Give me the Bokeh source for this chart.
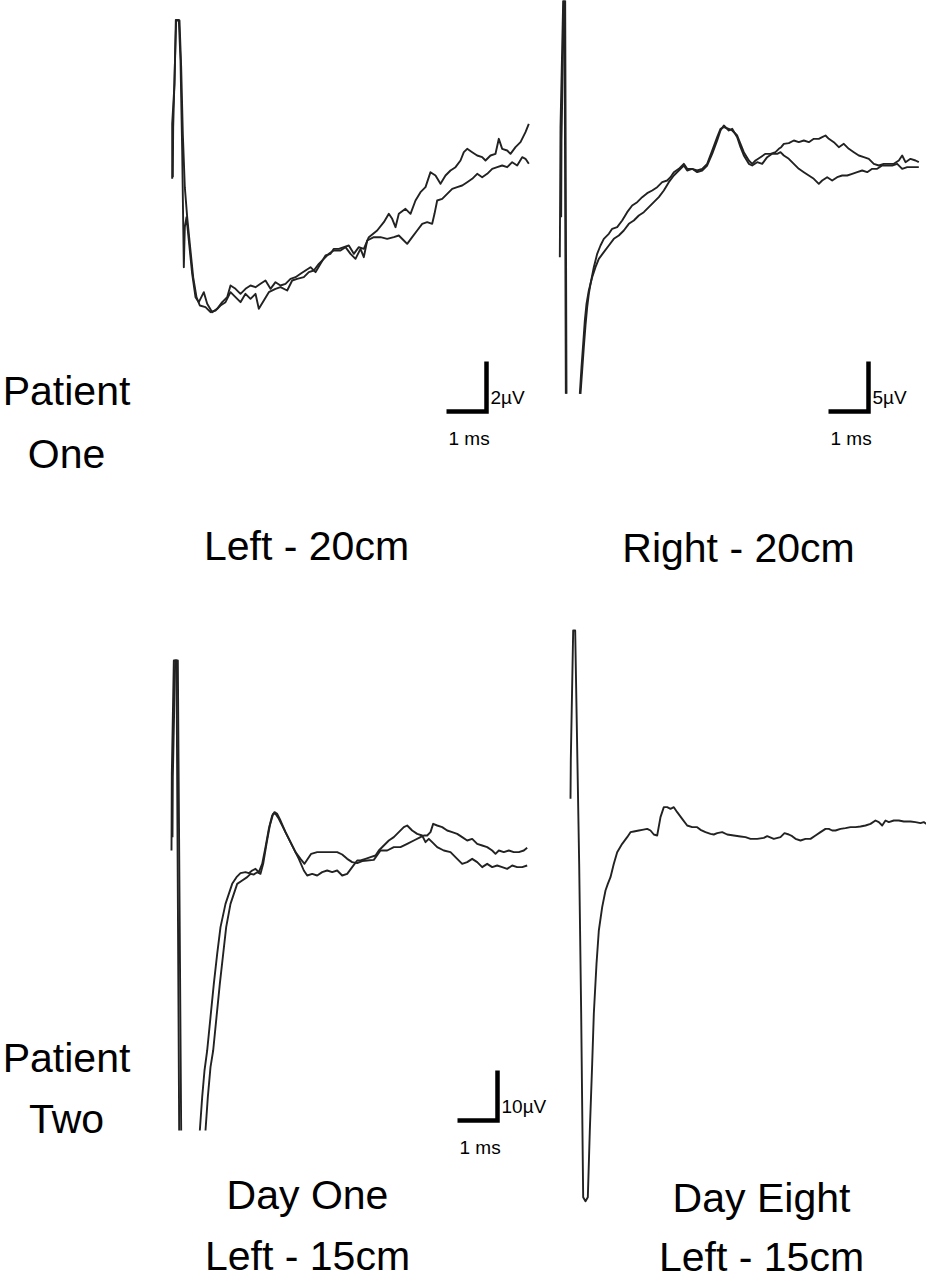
import math
from bokeh.plotting import figure
from bokeh.models import Range1d
from bokeh.core.properties import value
from bokeh.embed import file_html
from bokeh.resources import INLINE

NaN = float("nan")

# ---------------- data: (time ms, amplitude µV) ----------------
# Patient One, Left - 20cm
left20_run1 = [(0.042,0.067),(0.042,2.267),(0.1,3.867),(0.133,6.427),(0.208,6.427),(0.25,4.8),(0.292,1.2),(0.333,-3.467),(0.358,-1.867),(0.4,-1.467),(0.458,-2.4),(0.542,-3.733),(0.625,-4.667),(0.708,-4.867),(0.833,-4.467),(0.917,-4.933),(1.042,-5.267),(1.167,-5.133),(1.292,-4.867),(1.417,-4.667),(1.5,-4.2),(1.625,-4.333),(1.75,-4.533),(1.875,-4.333),(2.0,-4.2),(2.125,-4.267),(2.25,-4.133),(2.375,-4.0),(2.5,-4.333),(2.625,-4.067),(2.75,-4.2),(2.875,-4.133),(3.0,-3.933),(3.125,-3.867),(3.25,-3.733),(3.375,-3.6),(3.5,-3.467),(3.625,-3.667),(3.75,-3.333),(3.875,-3.0),(4.0,-2.933),(4.083,-2.733),(4.208,-2.733),(4.333,-2.667),(4.458,-2.6),(4.583,-2.933),(4.708,-2.667),(4.833,-2.733),(4.958,-2.267),(5.167,-2.0),(5.333,-1.667),(5.458,-1.333),(5.542,-1.533),(5.625,-1.867),(5.708,-1.333),(5.875,-1.133),(6.0,-1.333),(6.125,-0.8),(6.25,-0.467),(6.375,-0.267),(6.5,0.333),(6.625,0.2),(6.75,-0.133),(6.875,0.2),(7.0,0.4),(7.125,0.533),(7.25,0.8),(7.333,1.133),(7.417,1.267),(7.542,1.133),(7.667,1.0),(7.792,0.933),(7.875,0.8),(8.0,1.0),(8.125,1.067),(8.208,1.667),(8.292,1.267),(8.417,1.2),(8.5,1.067),(8.625,1.333),(8.75,1.533),(8.875,1.933),(8.958,2.267)]
left20_run2 = [(0.058,0.133),(0.067,2.133),(0.108,4.533),(0.142,6.4),(0.225,6.4),(0.267,4.533),(0.308,1.867),(0.358,-0.267),(0.417,-1.467),(0.483,-2.533),(0.567,-3.867),(0.65,-4.667),(0.733,-5.0),(0.875,-5.067),(1.0,-5.267),(1.125,-5.2),(1.25,-5.0),(1.375,-4.867),(1.5,-4.467),(1.625,-4.667),(1.75,-4.867),(1.875,-4.533),(2.0,-4.733),(2.125,-4.533),(2.208,-5.133),(2.333,-4.8),(2.458,-4.467),(2.625,-4.333),(2.75,-4.267),(2.917,-4.4),(3.042,-4.0),(3.167,-3.933),(3.333,-3.867),(3.458,-3.667),(3.583,-3.6),(3.708,-3.333),(3.833,-3.133),(3.958,-2.933),(4.083,-2.8),(4.25,-2.8),(4.375,-2.667),(4.5,-2.933),(4.625,-3.133),(4.75,-2.733),(4.833,-3.067),(4.917,-2.4),(5.083,-2.267),(5.25,-2.267),(5.417,-2.333),(5.583,-2.267),(5.708,-2.2),(5.833,-2.4),(5.917,-2.533),(6.042,-2.267),(6.167,-2.0),(6.292,-1.733),(6.417,-1.667),(6.542,-1.733),(6.6,-1.333),(6.667,-0.8),(6.792,-0.733),(6.917,-0.533),(7.042,-0.333),(7.167,-0.267),(7.292,-0.2),(7.417,-0.067),(7.542,0.067),(7.667,0.267),(7.792,0.133),(7.917,0.267),(8.042,0.467),(8.167,0.533),(8.292,0.6),(8.417,0.533),(8.542,0.733),(8.667,0.6),(8.792,0.933),(8.875,0.867),(8.958,0.667)]

# Patient One, Right - 20cm
right20_run1 = [(-0.017,-10.667),(0.0,2.333),(0.067,15.0),(0.1,15.0),(0.133,-24.333),(NaN,NaN),(0.5,-24.333),(0.542,-22.0),(0.583,-19.667),(0.625,-17.5),(0.667,-15.667),(0.708,-14.333),(0.75,-13.333),(0.833,-11.667),(0.917,-10.333),(1.0,-9.5),(1.083,-8.833),(1.208,-8.333),(1.292,-7.833),(1.417,-7.667),(1.542,-7.0),(1.667,-6.167),(1.792,-5.5),(1.917,-5.167),(2.042,-4.667),(2.167,-4.267),(2.292,-4.0),(2.417,-3.667),(2.542,-3.167),(2.667,-3.0),(2.75,-2.667),(2.833,-2.167),(2.958,-1.833),(3.083,-1.333),(3.167,-1.833),(3.292,-1.833),(3.417,-2.0),(3.542,-1.833),(3.667,-1.333),(3.792,0.0),(3.917,1.333),(4.0,2.167),(4.083,2.333),(4.208,2.167),(4.292,2.0),(4.417,1.5),(4.5,0.667),(4.583,-0.167),(4.708,-1.0),(4.792,-1.333),(4.875,-1.0),(5.0,-0.667),(5.125,-0.333),(5.25,-0.333),(5.375,-0.167),(5.458,0.167),(5.517,0.333),(5.583,0.667),(5.708,0.733),(5.833,1.0),(5.958,0.833),(6.083,1.0),(6.208,0.833),(6.333,1.167),(6.458,1.167),(6.542,1.333),(6.625,1.5),(6.708,1.167),(6.833,0.833),(6.958,0.333),(7.083,0.667),(7.208,0.167),(7.333,-0.167),(7.458,-0.5),(7.583,-0.667),(7.708,-0.833),(7.833,-1.333),(7.958,-1.5),(8.083,-1.333),(8.208,-1.333),(8.333,-1.333),(8.458,-1.0),(8.542,-0.5),(8.625,-1.167),(8.75,-0.833),(8.875,-1.0),(8.958,-1.167)]
right20_run2 = [(0.017,-6.667),(0.025,1.0),(0.083,15.0),(0.117,15.0),(0.15,-24.333),(NaN,NaN),(0.483,-24.333),(0.525,-21.667),(0.567,-19.333),(0.608,-17.0),(0.65,-15.333),(0.708,-14.0),(0.792,-12.667),(0.875,-11.667),(0.958,-10.833),(1.083,-10.167),(1.208,-9.5),(1.333,-8.833),(1.458,-8.5),(1.583,-8.0),(1.708,-7.333),(1.833,-7.0),(1.958,-6.5),(2.083,-6.167),(2.208,-5.667),(2.333,-5.167),(2.458,-4.667),(2.583,-4.0),(2.708,-3.167),(2.833,-2.5),(2.958,-2.0),(3.083,-1.5),(3.167,-2.0),(3.292,-1.833),(3.417,-2.167),(3.542,-2.0),(3.667,-1.5),(3.792,-0.333),(3.917,1.0),(4.0,2.0),(4.083,2.5),(4.208,2.0),(4.292,2.167),(4.417,1.333),(4.5,0.333),(4.583,-0.5),(4.708,-1.333),(4.792,-1.5),(4.917,-1.167),(5.042,-1.333),(5.167,-0.667),(5.292,-0.333),(5.417,-0.333),(5.5,-0.167),(5.583,-0.5),(5.708,-0.833),(5.833,-1.333),(5.958,-1.833),(6.083,-2.167),(6.208,-2.5),(6.333,-2.833),(6.458,-3.333),(6.542,-3.0),(6.667,-2.667),(6.792,-3.0),(6.917,-2.667),(7.042,-2.5),(7.167,-2.5),(7.292,-2.333),(7.417,-2.167),(7.542,-2.0),(7.667,-2.167),(7.792,-1.833),(7.917,-1.833),(8.042,-1.5),(8.167,-1.5),(8.292,-1.5),(8.417,-1.333),(8.542,-1.833),(8.667,-1.667),(8.792,-1.667),(8.958,-1.667)]

# Patient Two, Day One, Left - 15cm
dayone_run1 = [(0.025,-10.0),(0.033,5.333),(0.083,28.0),(0.15,28.0),(0.217,-66.0),(NaN,NaN),(0.733,-66.0),(0.792,-59.333),(0.85,-54.0),(0.917,-50.0),(1.0,-43.333),(1.083,-36.667),(1.167,-30.667),(1.25,-25.333),(1.375,-20.667),(1.542,-16.667),(1.65,-15.333),(1.75,-14.533),(1.875,-14.333),(1.958,-14.533),(2.042,-14.0),(2.125,-13.667),(2.208,-14.333),(2.292,-12.667),(2.375,-9.333),(2.458,-5.667),(2.542,-3.0),(2.6,-2.333),(2.667,-2.667),(2.75,-4.0),(2.875,-6.333),(3.0,-8.333),(3.125,-10.333),(3.25,-11.667),(3.35,-12.667),(3.433,-11.667),(3.517,-10.667),(3.667,-10.333),(3.833,-10.333),(4.0,-10.333),(4.167,-10.333),(4.292,-10.8),(4.417,-11.667),(4.542,-12.333),(4.667,-12.533),(4.792,-12.133),(4.917,-12.0),(5.083,-11.867),(5.25,-10.0),(5.417,-10.0),(5.583,-9.333),(5.75,-9.333),(5.917,-8.667),(6.083,-8.0),(6.25,-7.333),(6.333,-7.0),(6.417,-7.0),(6.5,-6.333),(6.567,-4.667),(6.667,-5.0),(6.792,-5.333),(6.917,-6.0),(7.042,-6.333),(7.167,-6.667),(7.292,-7.333),(7.417,-8.0),(7.542,-7.667),(7.667,-8.667),(7.792,-9.0),(7.917,-9.333),(8.042,-10.0),(8.125,-10.667),(8.208,-10.0),(8.333,-10.333),(8.458,-10.0),(8.583,-10.333),(8.708,-10.333),(8.833,-10.0),(8.917,-9.467)]
dayone_run2 = [(0.05,-7.333),(0.058,4.667),(0.117,28.0),(0.183,28.0),(0.267,-66.0),(NaN,NaN),(0.875,-66.0),(0.933,-59.333),(1.0,-53.333),(1.067,-50.0),(1.15,-43.333),(1.233,-36.667),(1.317,-30.667),(1.392,-25.333),(1.5,-20.667),(1.667,-16.667),(1.792,-16.0),(1.917,-15.333),(2.0,-14.667),(2.083,-14.8),(2.167,-14.333),(2.25,-14.667),(2.317,-12.667),(2.4,-8.667),(2.483,-5.0),(2.567,-2.667),(2.625,-2.667),(2.708,-3.667),(2.833,-5.667),(2.958,-7.667),(3.083,-9.667),(3.208,-11.667),(3.333,-14.0),(3.417,-15.0),(3.542,-14.667),(3.667,-15.0),(3.792,-14.333),(3.917,-14.0),(4.042,-14.333),(4.167,-14.0),(4.292,-15.0),(4.417,-14.667),(4.542,-13.333),(4.667,-12.0),(4.75,-12.0),(4.875,-11.667),(5.0,-11.333),(5.125,-11.0),(5.208,-10.0),(5.333,-9.0),(5.458,-8.0),(5.583,-7.333),(5.708,-6.333),(5.833,-5.333),(5.917,-5.0),(6.042,-6.0),(6.167,-6.667),(6.292,-7.0),(6.375,-8.333),(6.458,-7.667),(6.542,-8.333),(6.667,-9.333),(6.833,-10.0),(7.0,-10.333),(7.167,-11.667),(7.292,-12.667),(7.417,-12.333),(7.542,-11.667),(7.667,-12.333),(7.792,-13.333),(7.917,-12.667),(8.042,-13.333),(8.167,-13.0),(8.292,-13.333),(8.417,-13.667),(8.542,-13.0),(8.667,-13.333),(8.792,-13.333),(8.917,-13.0)]

# Patient Two, Day Eight, Left - 15cm
dayeight_run = [(0.0,-3.667),(0.008,4.333),(0.067,30.0),(0.117,30.0),(0.217,-16.667),(0.267,-46.667),(0.317,-83.333),(0.375,-84.133),(0.433,-83.333),(0.483,-70.0),(0.542,-56.667),(0.583,-46.667),(0.65,-36.667),(0.708,-30.0),(0.792,-25.333),(0.875,-22.0),(0.933,-20.667),(1.0,-19.333),(1.083,-16.667),(1.167,-14.333),(1.292,-12.667),(1.417,-11.333),(1.5,-10.333),(1.583,-10.2),(1.708,-10.0),(1.792,-9.867),(1.917,-9.667),(2.0,-10.0),(2.083,-10.8),(2.167,-11.0),(2.25,-7.333),(2.333,-5.333),(2.417,-5.333),(2.5,-5.667),(2.583,-5.333),(2.667,-6.333),(2.792,-7.667),(2.917,-9.0),(3.042,-9.333),(3.167,-9.333),(3.25,-9.867),(3.375,-10.333),(3.5,-10.667),(3.583,-10.8),(3.667,-10.533),(3.792,-10.333),(3.917,-10.8),(4.083,-11.0),(4.25,-11.2),(4.375,-11.333),(4.5,-11.667),(4.667,-11.667),(4.833,-11.467),(4.917,-11.133),(5.083,-11.667),(5.25,-11.333),(5.35,-10.533),(5.458,-10.8),(5.542,-11.133),(5.625,-11.667),(5.75,-12.0),(5.875,-11.667),(6.0,-11.667),(6.125,-11.0),(6.25,-10.333),(6.375,-9.667),(6.458,-9.667),(6.542,-10.0),(6.625,-10.0),(6.75,-9.667),(6.875,-9.533),(7.0,-9.333),(7.125,-9.333),(7.25,-9.2),(7.375,-9.0),(7.5,-8.667),(7.625,-8.0),(7.708,-8.333),(7.792,-9.0),(7.875,-8.0),(7.958,-8.333),(8.083,-8.0),(8.208,-8.0),(8.333,-8.2),(8.5,-8.2),(8.625,-8.333),(8.75,-8.533),(8.833,-8.333),(8.9,-8.667)]

# scale bars: amplitude (µV) and time (ms)
scale_uv = {"A": 2, "B": 5, "C": 10}
scale_ms = 1
scale_uv_labels = {"A": "2µV", "B": "5µV", "C": "10µV"}
scale_ms_label = "1 ms"

row_labels = [("Patient", "One"), ("Patient", "Two")]
panel_titles = {"A": ["Left - 20cm"], "B": ["Right - 20cm"],
                "C": ["Day One", "Left - 15cm"], "D": ["Day Eight", "Left - 15cm"]}

# ---------------- layout (page pixels) ----------------
W, H = 926, 1281
# origin (t=0, V=0) in page px, px per ms, px per µV
geom = {"A": (170, 180, 40, 25), "B": (560, 150, 40, 10),
        "C": (170, 800, 40, 5), "D": (570, 780, 40, 5)}
bar_corner = {"A": (486, 411), "B": (868, 411), "C": (497, 1120)}

INK = "#222222"
FONT = value("Liberation Sans")
BIG = value("41px")
SMALL = value("19px")

p = figure(width=W, height=H, x_range=Range1d(0, W), y_range=Range1d(H, 0),
           output_backend="svg", toolbar_location=None, tools="", min_border=0,
           x_axis_location=None, y_axis_location=None)
p.grid.visible = False
p.outline_line_color = None
p.background_fill_color = "white"
p.border_fill_color = "white"

xr, yr = {}, {}
for k, (x0, y0, sx, sy) in geom.items():
    xr[k] = Range1d((0 - x0) / sx, (W - x0) / sx)
    yr[k] = Range1d((y0 - H) / sy, (y0 - 0) / sy)
p.extra_x_ranges = xr
p.extra_y_ranges = yr

def trace(k, pts):
    ts = [a for a, b in pts]
    vs = [b for a, b in pts]
    p.line(ts, vs, x_range_name=k, y_range_name=k, line_color=INK, line_width=1.9,
           line_join="round")

trace("A", left20_run1); trace("A", left20_run2)
trace("B", right20_run1); trace("B", right20_run2)
trace("C", dayone_run1); trace("C", dayone_run2)
trace("D", dayeight_run)

# scale bars
for k, (cx, cy) in bar_corner.items():
    x0, y0, sx, sy = geom[k]
    tc = (cx - x0) / sx
    vc = (y0 - cy) / sy
    p.line([tc - scale_ms, tc, tc], [vc, vc, vc + scale_uv[k]], x_range_name=k, y_range_name=k,
           line_color="black", line_width=4.5, line_join="miter", line_cap="butt")
    p.text([cx + 4], [cy - 14], text=[scale_uv_labels[k]], text_font=FONT,
           text_font_size=SMALL, text_color="black", text_baseline="alphabetic",
           text_align="left")
    p.text([cx - 38], [cy + 27], text=[scale_ms_label], text_font=FONT,
           text_font_size=SMALL, text_color="black", text_baseline="alphabetic",
           text_align="left")

# row labels
row_pos = [(66, 390, 453), (66, 1057, 1118)]
for (l1, l2), (x, y1, y2) in zip(row_labels, row_pos):
    p.text([x, x], [y1, y2], text=[l1, l2], text_font=FONT, text_font_size=BIG,
           text_color="black", text_align="center", text_baseline="alphabetic")

# panel titles
title_pos = {"A": (306, [545]), "B": (738, [547]), "C": (307, [1194, 1255]), "D": (761, [1197, 1256])}
for k, lines in panel_titles.items():
    x, ys = title_pos[k]
    p.text([x] * len(lines), ys, text=lines, text_font=FONT, text_font_size=BIG,
           text_color="black", text_align="center", text_baseline="alphabetic")

open("out.html", "w").write(file_html(p, INLINE))
